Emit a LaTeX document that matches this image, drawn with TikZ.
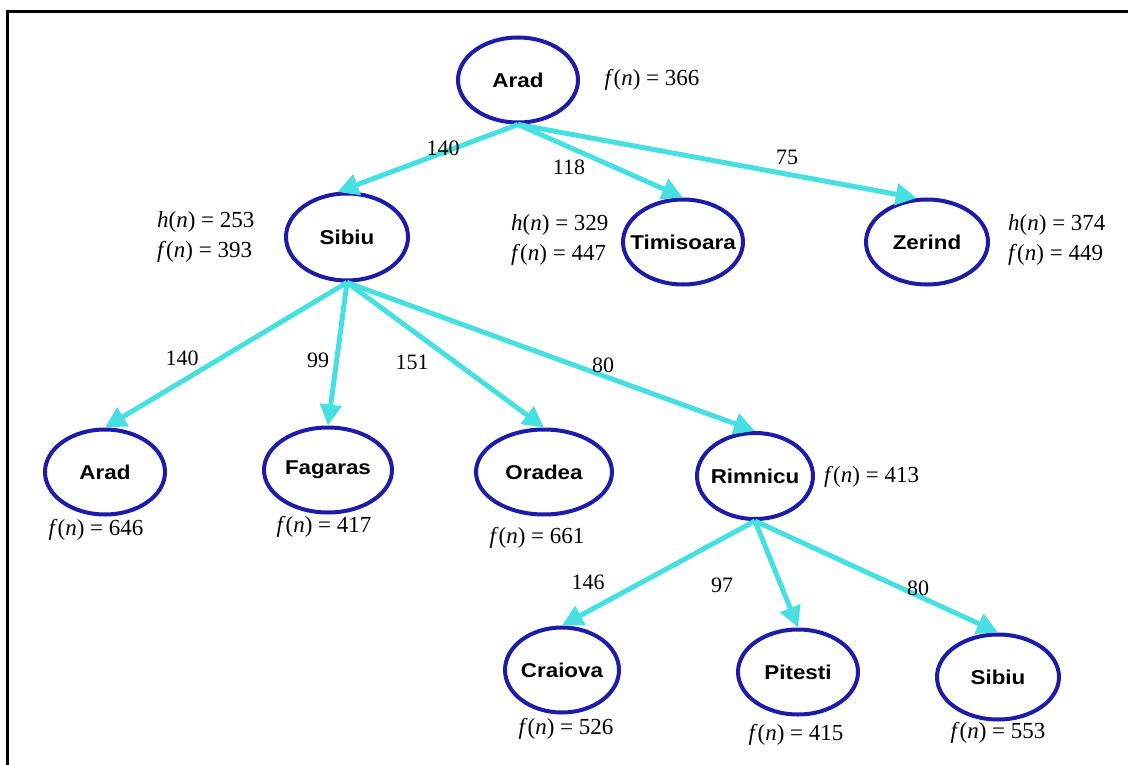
\documentclass[tikz,border=0pt]{standalone}
\usepackage{fontspec}
\setmainfont{Liberation Serif}
\newfontfamily\cityfont[FakeStretch=1.12]{Liberation Sans}
\usetikzlibrary{shapes.geometric,arrows.meta}

\definecolor{cityblue}{RGB}{28,28,168}
\definecolor{linkcyan}{RGB}{70,224,226}

\tikzset{
  city/.style={ellipse, draw=cityblue, line width=4pt, fill=white,
               minimum width=120pt, minimum height=85pt, inner sep=0pt},
  cityname/.style={font=\cityfont\bfseries\fontsize{20}{23}\selectfont, inner sep=0pt},
  cost/.style={font=\fontsize{23}{30}\selectfont, inner sep=0pt, align=left},
  dist/.style={font=\fontsize{22}{24}\selectfont, inner sep=0pt},
  link/.style={draw=linkcyan, line width=5pt,
               -{Triangle[length=21pt,width=21pt]}},
  frameline/.style={line width=3pt, black},
}
\newcommand{\fn}{\textit{f}(\textit{n}) = }
\newcommand{\hn}{\textit{h}(\textit{n}) = }

\begin{document}
\begin{tikzpicture}[x=1pt,y=-1pt]
\useasboundingbox (0,0) rectangle (1128,765);

% frame along the top and left edges
\coordinate (ftr) at (1128,12);
\coordinate (ftl) at (7,12);
\coordinate (fbl) at (7,765);
\draw[frameline] (ftr) -- (ftl) -- (fbl);

% search tree nodes
\node[city, label={[cityname]center:Arad}] (arad) at (518,80) {};

\node[city, minimum width=122pt, minimum height=87pt, label={[cityname]center:Sibiu}] (sib) at (347,237) {};
\node[city, label={[cityname]center:Timisoara}] (tim) at (683,242) {};
\node[city, minimum width=122pt, label={[cityname]center:Zerind}] (zer) at (927,242) {};

\node[city, label={[cityname]center:Arad}] (arad2) at (105,472) {};
\node[city, minimum width=128pt, label={[cityname]center:Fagaras}] (fag) at (328,470) {};
\node[city, minimum width=136pt, label={[cityname]center:Oradea}] (ora) at (544,472) {};
\node[city, minimum width=116pt, minimum height=86pt, label={[cityname]center:Rimnicu}] (rim) at (755,476) {};

\node[city, minimum width=114pt, label={[cityname]center:Craiova}] (cra) at (562,670) {};
\node[city, label={[cityname]center:Pitesti}] (pit) at (798,672) {};
\node[city, minimum width=122pt, label={[cityname]center:Sibiu}] (sib3) at (998,677) {};

% cost annotations
\node[cost] (fArad) at (652,80) {\fn366};
\node[cost, anchor=west] (fSib) at (157,237) {\hn253\\\fn393};
\node[cost, anchor=west] (fTim) at (511,240) {\hn329\\\fn447};
\node[cost, anchor=west] (fZer) at (1008,240) {\hn374\\\fn449};
\node[cost] (fArad2) at (96,530) {\fn646};
\node[cost] (fFag) at (324,527) {\fn417};
\node[cost] (fOra) at (537,538) {\fn661};
\node[cost, anchor=west] (fRim) at (824,477) {\fn413};
\node[cost] (fCra) at (566,729) {\fn526};
\node[cost] (fPit) at (796,735) {\fn415};
\node[cost] (fSib3) at (998,733) {\fn553};

% expansions
\draw[link] (arad.south) -- (sib.102);
\draw[link] (arad.south) -- (tim.north);
\draw[link] (arad.south) -- (zer.103);

\draw[link] (sib.south) -- (arad2.north);
\draw[link] (sib.south) -- (fag.north);
\draw[link] (sib.south) -- (ora.north);
\draw[link] (sib.south) -- (rim.north);

\draw[link] (rim.south) -- (cra.north);
\draw[link] (rim.south) -- (pit.north);
\draw[link] (rim.south) -- (sib3.north);

% step costs
\node[dist] (d1) at (443,148) {140};
\node[dist] (d2) at (569,167) {118};
\node[dist] (d3) at (787,157) {75};
\node[dist] (d4) at (182,358) {140};
\node[dist] (d5) at (318,360) {99};
\node[dist] (d6) at (412,362) {151};
\node[dist] (d7) at (603,365) {80};
\node[dist] (d8) at (588,582) {146};
\node[dist] (d9) at (722,585) {97};
\node[dist] (d10) at (918,588) {80};
\end{tikzpicture}
\end{document}
